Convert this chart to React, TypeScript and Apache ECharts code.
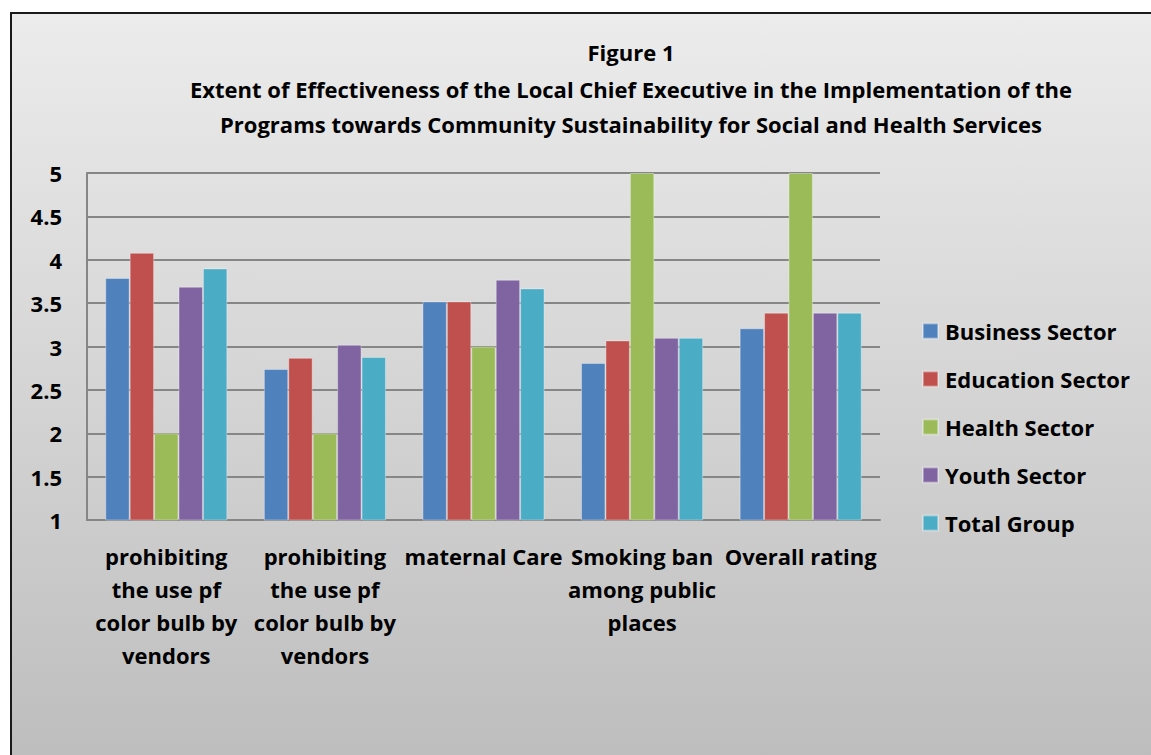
import React, { useEffect, useRef } from "react";
import * as echarts from "echarts";

const categories = [
  "prohibiting\nthe use pf\ncolor bulb by\nvendors",
  "prohibiting\nthe use pf\ncolor bulb by\nvendors",
  "maternal Care",
  "Smoking ban\namong public\nplaces",
  "Overall rating",
];
const seriesNames = ["Business Sector", "Education Sector", "Health Sector", "Youth Sector", "Total Group"];
const business = [3.79, 2.74, 3.52, 2.81, 3.21];
const education = [4.08, 2.87, 3.52, 3.07, 3.39];
const health = [2, 2, 3, 5, 5];
const youth = [3.69, 3.02, 3.77, 3.1, 3.39];
const total = [3.9, 2.88, 3.67, 3.1, 3.39];
const colors = ["#4F81BD", "#C0504D", "#9BBB59", "#8064A2", "#4BACC6"];
const titleLines = [
  "Figure 1",
  "Extent of Effectiveness of the Local Chief Executive in the Implementation of the",
  "Programs towards Community Sustainability for Social and Health Services",
];
const yMin = 1;
const yMax = 5;
const yStep = 0.5;

const FONT = "'Open Sans', Lato, sans-serif";

export default function App() {
  const ref = useRef<HTMLDivElement>(null);
  useEffect(() => {
    if (!ref.current) return;
    const chart = echarts.init(ref.current, null, { renderer: "svg" });
    const values = [business, education, health, youth, total];
    const titleY = [52, 89, 124];
    chart.setOption({
      animation: false,
      backgroundColor: "#ffffff",
      color: colors,
      graphic: [
        {
          type: "rect",
          z: -100,
          shape: { x: 11, y: 13, width: 1300, height: 800 },
          style: {
            fill: new echarts.graphic.LinearGradient(0, 0, 0, 1, [
              { offset: 0, color: "#ececec" },
              { offset: 1, color: "#bababa" },
            ]),
            stroke: "#1a1a1a",
            lineWidth: 2,
          },
        },
        ...titleLines.map((t, i) => ({
          type: "text",
          x: 631,
          y: titleY[i],
          style: {
            text: t,
            fill: "#000",
            font: `bold 22px ${FONT}`,
            textAlign: "center",
            textVerticalAlign: "middle",
          },
        })),
      ],
      grid: { left: 87, top: 173, right: 271, bottom: 235, containLabel: false },
      legend: {
        orient: "vertical",
        left: 922,
        top: 320,
        padding: 0,
        itemWidth: 15,
        itemHeight: 15,
        itemGap: 26,
        icon: "rect",
        textStyle: { fontFamily: FONT, fontWeight: "bold", fontSize: 22, color: "#000", lineHeight: 22, padding: [0, 0, 0, 2] },
        data: seriesNames,
      },
      xAxis: {
        type: "category",
        data: categories,
        axisLine: { show: true, lineStyle: { color: "#868686", width: 2 } },
        axisTick: { show: false },
        axisLabel: {
          interval: 0,
          fontFamily: FONT,
          fontWeight: "bold",
          fontSize: 22,
          color: "#000",
          lineHeight: 33,
          margin: 19,
          align: "center",
        },
      },
      yAxis: {
        type: "value",
        min: yMin,
        max: yMax,
        interval: yStep,
        axisLine: { show: true, lineStyle: { color: "#868686", width: 2 } },
        axisTick: { show: false },
        splitLine: { show: true, lineStyle: { color: "#868686", width: 2 } },
        axisLabel: {
          fontFamily: FONT,
          fontWeight: "bold",
          fontSize: 22,
          color: "#000",
          margin: 25,
        },
      },
      series: seriesNames.map((name, i) => ({
        name,
        type: "bar",
        data: values[i],
        barGap: "0%",
        barCategoryGap: "23%",
        itemStyle: { color: colors[i], borderColor: "rgba(255,255,255,0.35)", borderWidth: 1 },
      })),
    });
    return () => chart.dispose();
  }, []);
  return (
    <div
      ref={ref}
      style={{ position: "fixed", left: 0, top: 0, width: 1151, height: 755 }}
    />
  );
}
